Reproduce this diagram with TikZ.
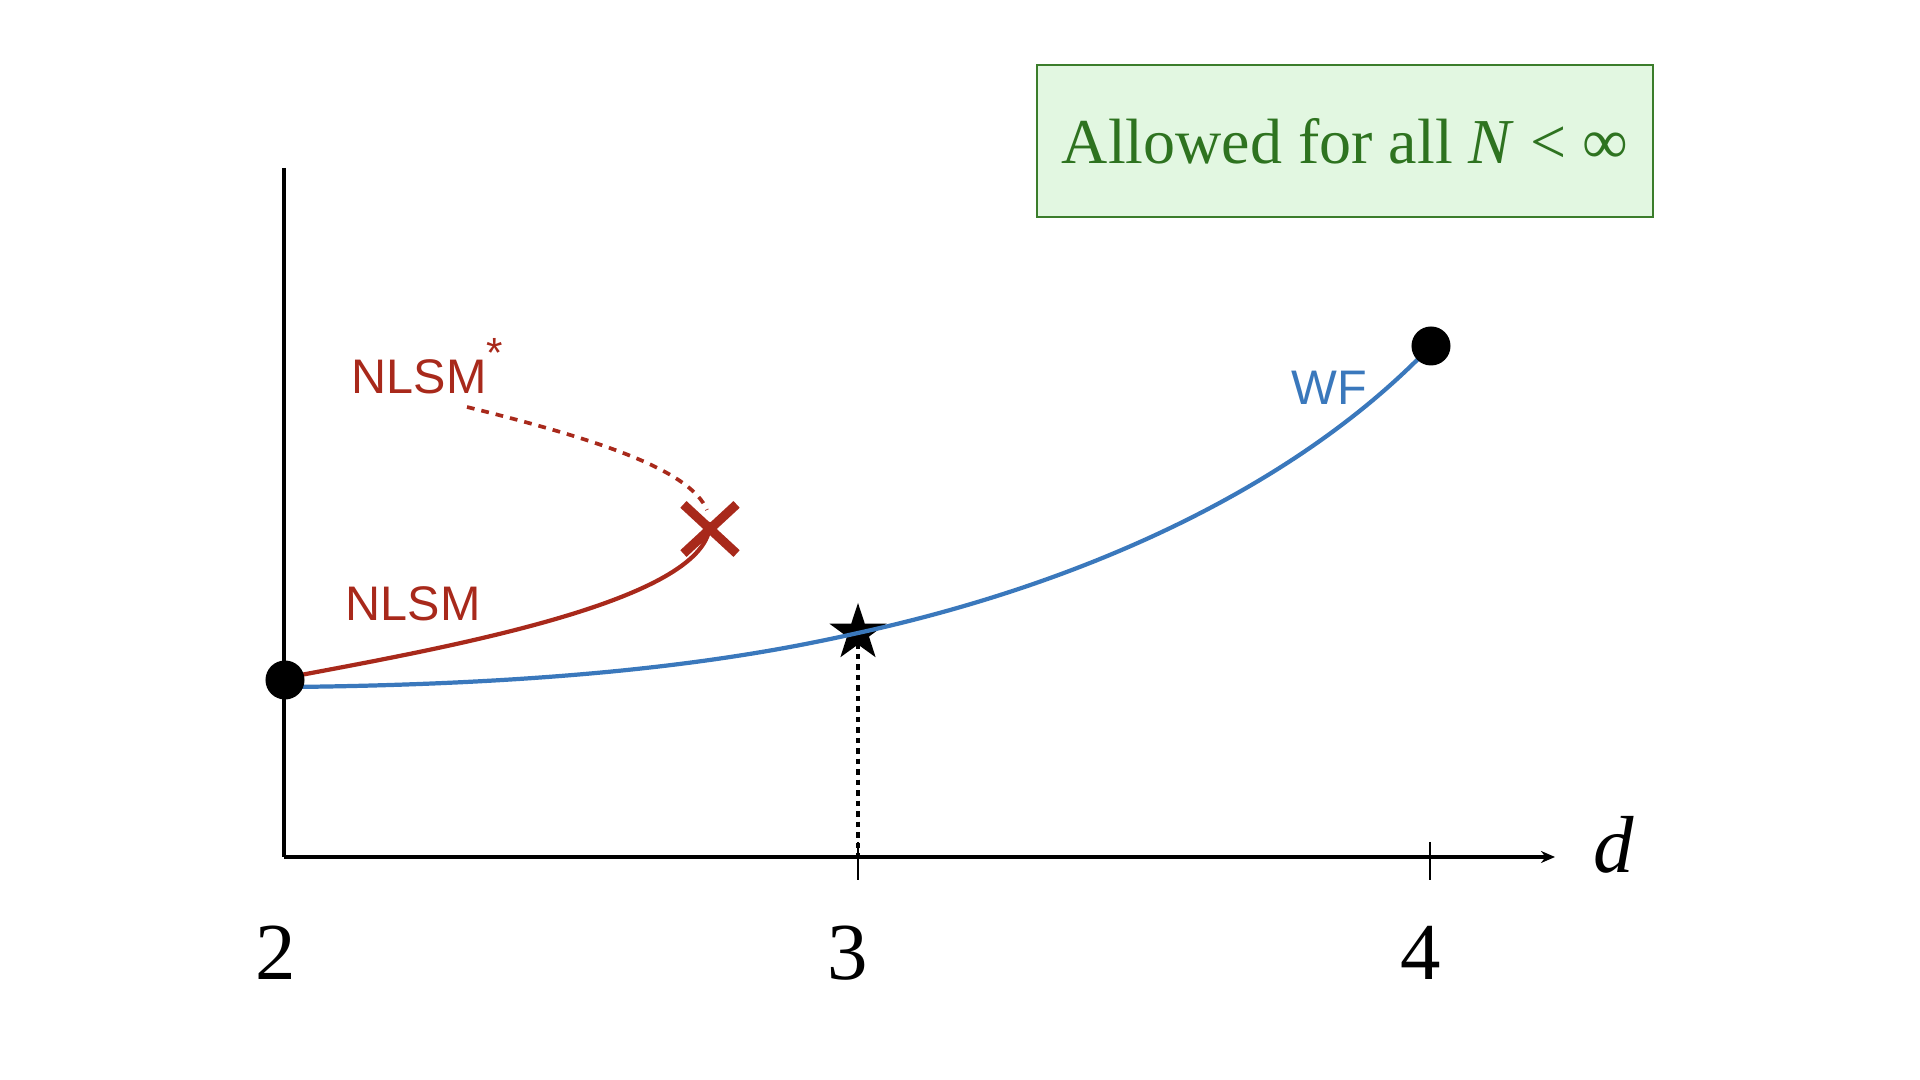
\documentclass[tikz,border=0pt]{standalone}
\usepackage{fontspec}
\setmainfont{Liberation Serif}
\newfontfamily\labelfont{Liberation Sans}
\usetikzlibrary{shapes.geometric,shapes.misc,arrows.meta}
\definecolor{nlsmred}{HTML}{A8291B}
\definecolor{wfblue}{HTML}{3A78BC}
\definecolor{boxgreen}{HTML}{3B7D2B}
\definecolor{boxtext}{HTML}{2E7320}
\definecolor{boxfill}{HTML}{E2F7E1}
\tikzset{
  axisline/.style={line width=0.95pt, black},
  tickline/.style={line width=0.65pt, black},
  fixdot/.style={circle, fill=black, inner sep=0pt, minimum size=0.39cm},
  ticklabel/.style={anchor=base, font=\fontsize{23}{27}\selectfont},
  redlabel/.style={text=nlsmred, font=\labelfont\fontsize{13.8}{16}\selectfont, inner sep=0pt},
  bluelabel/.style={text=wfblue, font=\labelfont\fontsize{13.8}{16}\selectfont, inner sep=0pt},
  flowred/.style={draw=nlsmred, line width=1.2pt},
  flowblue/.style={draw=wfblue, line width=1.2pt},
}
\begin{document}
\begin{tikzpicture}[x=0.01cm,y=-0.01cm]
\useasboundingbox (0,0) rectangle (1920,1080);
% axes
\coordinate (origin) at (284,857);
\coordinate (ytop) at (284,168);
\coordinate (xend) at (1555,857);
\draw[axisline] (ytop) -- (origin);
\draw[axisline, -{Stealth[length=0.14cm,width=0.12cm]}] (origin) -- (xend);
\coordinate (t3a) at (858,842); \coordinate (t3b) at (858,880);
\coordinate (t4a) at (1430,842); \coordinate (t4b) at (1430,880);
\draw[tickline] (t3a) -- (t3b);
\draw[tickline] (t4a) -- (t4b);
\node[ticklabel] (l2) at (276,980) {2};
\node[ticklabel] (l3) at (848,980) {3};
\node[ticklabel] (l4) at (1421,980) {4};
\node[ticklabel, font=\fontsize{23}{27}\selectfont\itshape] (ld) at (1614,873) {d};
% star and dotted line
\node[star, star points=5, star point ratio=2.6, fill=black, inner sep=0pt, minimum size=0.6cm] (st) at (858,633) {};
\coordinate (s3) at (858,857);
\draw[black, line width=0.95pt, dash pattern=on 1.56pt off 1.42pt] (st.center) -- (s3);
% curves
\coordinate (bstart) at (290,687);
\coordinate (bmid) at (858,633);
\coordinate (bend) at (1425,352);
\draw[flowblue] (bstart) .. controls (600,684) and (760,655) .. (bmid)
      .. controls (1100,580) and (1300,480) .. (bend);
\coordinate (rstart) at (290,677);
\coordinate (rend) at (710,522);
\draw[flowred] (rstart) .. controls (450,647) and (712,600) .. (rend);
% NLSM* dotted
\node[redlabel, anchor=base west] (nstar) at (351,394) {NLSM\raisebox{0.55em}{\fontsize{12}{14}\selectfont *}};
\coordinate (ds) at (467,407);
\coordinate (de) at (707,510);
\draw[nlsmred, line width=1.05pt, dash pattern=on 2.2pt off 2pt] (ds) .. controls (600,440) and (690,470) .. (de);
% cross
\node[cross out, draw=nlsmred, line width=2.6pt, minimum width=0.44cm, minimum height=0.4cm, inner sep=0pt] (xm) at (710,529) {};
% dots
\node[fixdot] (d2) at (285,680) {};
\node[fixdot] (d4) at (1431,346) {};
% labels
\node[redlabel, anchor=base west] (nl) at (345,621) {NLSM};
\node[bluelabel, anchor=base west] (wf) at (1291,405) {WF};
% box
\node[draw=boxgreen, fill=boxfill, line width=0.6pt, minimum width=6.16cm, minimum height=1.52cm, text=boxtext, font=\fontsize{18.2}{21}\selectfont] (box) at (1345,141) {Allowed for all \textit{N} < ∞};
\end{tikzpicture}
\end{document}
